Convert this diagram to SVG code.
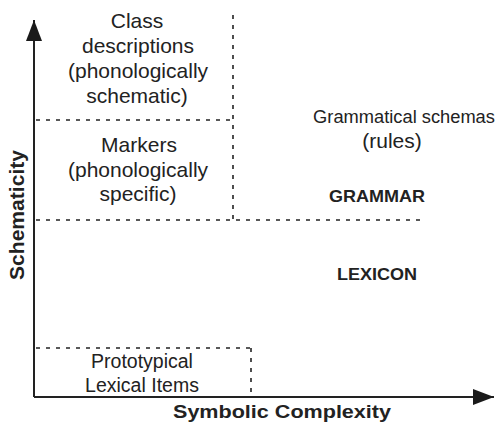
<svg xmlns="http://www.w3.org/2000/svg" width="500" height="422" viewBox="0 0 500 422">
<defs>
<style>
.t{font-family:"Liberation Sans",Arial,sans-serif;font-size:21px;fill:#222;text-anchor:middle}
.b{font-family:"Liberation Sans",Arial,sans-serif;font-weight:bold;fill:#222;text-anchor:middle}
.d{stroke:#222;stroke-width:1.6;stroke-dasharray:4 6;fill:none}
.ax{stroke:#222;stroke-width:2;fill:none}
</style>
<marker id="ah" markerUnits="userSpaceOnUse" markerWidth="22" markerHeight="16" refX="21" refY="8" orient="auto">
<path d="M0,0 L21,8 L0,16 Z" fill="#1a1a1a"/>
</marker>
</defs>
<rect width="500" height="422" fill="#fff"/>
<g id="connectors">
<line class="ax" x1="34" y1="397" x2="34" y2="20" marker-end="url(#ah)"/>
<line class="ax" x1="34" y1="397" x2="494" y2="397" marker-end="url(#ah)"/>
<line class="d" x1="36" y1="120" x2="232" y2="120"/>
<line class="d" x1="36" y1="220" x2="420" y2="220"/>
<line class="d" x1="233" y1="15" x2="233" y2="220"/>
<line class="d" x1="36" y1="348" x2="251" y2="348"/>
<line class="d" x1="251" y1="348" x2="251" y2="396"/>
</g>
<g id="class-descriptions">
<text class="t" x="137" y="28">Class</text>
<text class="t" x="138" y="53">descriptions</text>
<text class="t" x="138" y="78">(phonologically</text>
<text class="t" x="137" y="103">schematic)</text>
</g>
<g id="markers">
<text class="t" x="139" y="152">Markers</text>
<text class="t" x="138" y="177">(phonologically</text>
<text class="t" x="138" y="201">specific)</text>
</g>
<g id="grammatical-schemas">
<text class="t" x="404" y="123" style="font-size:18.3px">Grammatical schemas</text>
<text class="t" x="392" y="148">(rules)</text>
</g>
<g id="grammar">
<text class="b" x="377" y="202" font-size="16.5" textLength="96" lengthAdjust="spacingAndGlyphs">GRAMMAR</text>
</g>
<g id="lexicon">
<text class="b" x="377" y="280" font-size="16.5" textLength="80" lengthAdjust="spacingAndGlyphs">LEXICON</text>
</g>
<g id="prototypical">
<text class="t" x="142" y="368" style="font-size:19.5px">Prototypical</text>
<text class="t" x="142" y="392" style="font-size:19.5px">Lexical Items</text>
</g>
<g id="x-label">
<text class="b" x="282" y="418" font-size="18.5" textLength="218" lengthAdjust="spacingAndGlyphs">Symbolic Complexity</text>
</g>
<g id="y-label">
<text class="b" transform="translate(24,215) rotate(-90)" x="0" y="0" font-size="20" textLength="130" lengthAdjust="spacingAndGlyphs">Schematicity</text>
</g>
</svg>
